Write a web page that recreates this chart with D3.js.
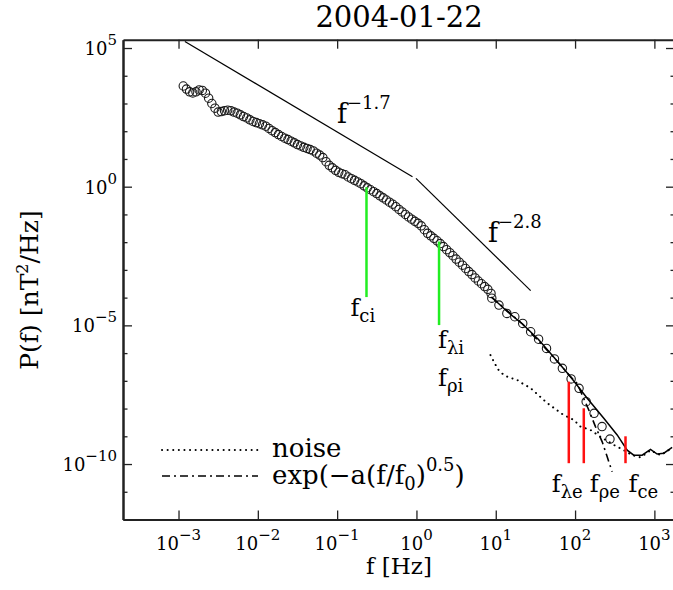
<!DOCTYPE html>
<html>
<head>
    <meta charset="utf-8">
    <style>
        body { margin: 0; background: #fff; }
        svg text { font-family: "DejaVu Serif", serif; fill: #000; }
        .axis path, .axis line { stroke: #222; }
        .axis text { display: none; }
    </style>
    <script src="https://d3js.org/d3.v7.min.js"></script>
</head>
<body>
<script>
    // all values are log10 numbers
    var denseF = [-2.94,-2.90,-2.86,-2.82,-2.78,-2.74,-2.70,-2.66,-2.62,-2.58,
                  -2.54,-2.50,-2.46,-2.42,-2.38,-2.34,-2.30,-2.26,-2.22,-2.18,
                  -2.14,-2.10,-2.06,-2.02,-1.98,-1.94,-1.90,-1.86,-1.82,-1.78,
                  -1.74,-1.70,-1.66,-1.62,-1.58,-1.54,-1.50,-1.46,-1.42,-1.38,
                  -1.34,-1.30,-1.26,-1.22,-1.18,-1.14,-1.10,-1.06,-1.02,-0.98,
                  -0.94,-0.90,-0.86,-0.82,-0.78,-0.74,-0.70,-0.66,-0.62,-0.58,
                  -0.54,-0.50,-0.46,-0.42,-0.38,-0.34,-0.30,-0.26,-0.22,-0.18,
                  -0.14,-0.10,-0.06,-0.02,0.02,0.06,0.10,0.14,0.18,0.22,
                  0.26,0.30,0.34,0.38,0.42,0.46,0.50,0.54,0.58,0.62,
                  0.66,0.70,0.74,0.78,0.82,0.86,0.90,0.94];
    var denseP = [3.63,3.52,3.42,3.38,3.42,3.49,3.47,3.37,3.19,3.00,
                  2.83,2.69,2.71,2.74,2.76,2.74,2.69,2.65,2.59,2.53,
                  2.48,2.41,2.35,2.31,2.27,2.23,2.18,2.10,2.02,1.95,
                  1.88,1.81,1.75,1.70,1.64,1.58,1.52,1.47,1.42,1.38,
                  1.34,1.29,1.21,1.14,1.05,0.90,0.77,0.68,0.59,0.52,
                  0.47,0.43,0.35,0.29,0.23,0.17,0.11,0.03,-0.04,-0.11,
                  -0.18,-0.25,-0.33,-0.40,-0.48,-0.56,-0.63,-0.72,-0.82,-0.91,
                  -1.00,-1.09,-1.17,-1.25,-1.32,-1.41,-1.55,-1.68,-1.77,-1.86,
                  -1.95,-2.05,-2.16,-2.27,-2.38,-2.49,-2.61,-2.72,-2.83,-2.95,
                  -3.06,-3.17,-3.29,-3.40,-3.50,-3.60,-3.70,-3.85];
    var sparseF = [0.95,1.04,1.14,1.24,1.34,1.44,1.54,1.64,1.74,1.84,1.95,2.05,2.14,2.24,2.34,2.44];
    var sparseP = [-4.02,-4.27,-4.57,-4.69,-4.93,-5.23,-5.50,-5.83,-6.21,-6.55,-6.93,-7.27,-7.75,-8.17,-8.65,-9.10];

    var fitF = [0.946,1.144,1.337,1.539,1.741,1.942,2.153,2.362,2.531,2.657,2.740,2.846,2.951,3.035,3.119,3.224];
    var fitP = [-3.98,-4.50,-4.95,-5.51,-6.18,-6.85,-7.63,-8.35,-8.95,-9.50,-9.68,-9.68,-9.47,-9.64,-9.61,-9.40];

    var noiseF = [0.933,0.987,1.030,1.101,1.173,1.261,1.333,1.438,1.648,1.854,1.984,2.068,2.194,2.320,2.488,2.614,2.720,2.825,2.951,3.077,3.224];
    var noiseP = [-6.07,-6.37,-6.59,-6.79,-6.89,-6.95,-7.09,-7.26,-7.80,-8.23,-8.41,-8.65,-8.77,-9.02,-9.31,-9.50,-9.68,-9.76,-9.51,-9.68,-9.42];

    var expF = [0.946,1.337,1.741,1.942,2.027,2.173,2.257,2.342,2.405,2.468];
    var expP = [-3.98,-4.95,-6.18,-6.85,-7.10,-8.05,-8.65,-9.20,-9.74,-10.28];

    // power laws: index, start/end log f, log amplitude at f = 1 Hz
    var slopeIndex = [-1.7, -2.8];
    var slopeFrom = [-2.92, -0.006];
    var slopeTo = [-0.05, 1.44];
    var slopeAmp = [0.275, 0.283];

    // characteristic frequencies
    var ionF = [-0.63, 0.285];
    var ionTop = [-0.02, -1.98];
    var ionBottom = [-3.98, -4.99];
    var elecF = [1.921, 2.110, 2.636];
    var elecTop = [-7.03, -7.99, -9.0];
    var elecBottom = -9.97;

    var xTicks = [-3, -2, -1, 0, 1, 2, 3];
    var yMajor = [-10, -5, 0, 5];
    var yMinor = [-12, -11, -9, -8, -7, -6, -4, -3, -2, -1, 1, 2, 3, 4];

    var width = 673, height = 590;
    var plotL = 123, plotR = 675, plotT = 39.7, plotB = 519.5;

    var p10 = function(v) { return Math.pow(10, v); };
    var sup = function(v) { return v < 0 ? "\u2212" + Math.abs(v) : "" + v; };

    var x = d3.scaleLog().domain([p10(-3.7), p10(3.26)]).range([plotL, plotR]);
    var y = d3.scaleLog().domain([p10(-12), p10(5.3)]).range([plotB, plotT]);

    var svg = d3.select("body").append("svg")
        .attr("width", width).attr("height", height)
        .style("display", "block");

    svg.append("clipPath").attr("id", "plot")
       .append("rect")
       .attr("x", plotL).attr("y", plotT)
       .attr("width", plotR - plotL).attr("height", plotB - plotT);

    // axes
    function axis(gen, tx, ty, vals, size) {
        var g = svg.append("g").attr("class", "axis")
            .attr("transform", "translate(" + tx + "," + ty + ")")
            .call(gen.tickValues(vals.map(p10)).tickSize(size).tickSizeOuter(0).tickFormat(""));
        g.select(".domain").attr("stroke-width", 2);
        g.selectAll(".tick line").attr("stroke-width", 1.3);
        return g;
    }
    axis(d3.axisBottom(x), 0, plotB, xTicks, -9);
    axis(d3.axisTop(x), 0, plotT, xTicks, -9);
    axis(d3.axisLeft(y), plotL, 0, yMajor, -9);
    axis(d3.axisLeft(y), plotL, 0, yMinor, -4.5);
    axis(d3.axisRight(y), plotR, 0, yMajor, -9);
    axis(d3.axisRight(y), plotR, 0, yMinor, -4.5);

    // tick labels
    xTicks.forEach(function(e) {
        var t = svg.append("text")
            .attr("x", x(p10(e))).attr("y", 550)
            .attr("text-anchor", "middle");
        t.append("tspan").attr("font-size", 18).text("10");
        t.append("tspan").attr("font-size", 15).attr("dy", -10).text(sup(e));
    });
    yMajor.forEach(function(e) {
        var t = svg.append("text")
            .attr("x", 117).attr("y", y(p10(e)) + 7)
            .attr("text-anchor", "end");
        t.append("tspan").attr("font-size", 18).text("10");
        t.append("tspan").attr("font-size", 15).attr("dy", -10).text(sup(e));
    });

    // titles
    svg.append("text")
       .attr("x", 399).attr("y", 27)
       .attr("text-anchor", "middle")
       .attr("font-size", 29)
       .text("2004-01-22");

    svg.append("text")
       .attr("x", 399).attr("y", 574)
       .attr("text-anchor", "middle")
       .attr("font-size", 23)
       .text("f  [Hz]");

    var yl = svg.append("text")
       .attr("transform", "translate(38,290) rotate(-90)")
       .attr("text-anchor", "middle")
       .attr("font-size", 25);
    yl.append("tspan").text("P(f)  [nT");
    yl.append("tspan").attr("font-size", 16).attr("dy", -10).text("2");
    yl.append("tspan").attr("dy", 10).text("/Hz]");

    var plot = svg.append("g").attr("clip-path", "url(#plot)");

    var line = d3.line()
        .x(function(d) { return x(p10(d[0])); })
        .y(function(d) { return y(p10(d[1])); });

    // power law guides
    slopeIndex.forEach(function(s, i) {
        var pts = [slopeFrom[i], slopeTo[i]].map(function(f) { return [f, slopeAmp[i] + s * f]; });
        plot.append("path").attr("d", line(pts))
            .attr("fill", "none").attr("stroke", "#000").attr("stroke-width", 1.2);
    });

    // measured spectrum
    var pts = d3.zip(denseF, denseP).concat(d3.zip(sparseF, sparseP));
    plot.selectAll("circle.pt")
        .data(pts)
        .enter().append("circle")
        .attr("class", "pt")
        .attr("cx", function(d) { return x(p10(d[0])); })
        .attr("cy", function(d) { return y(p10(d[1])); })
        .attr("r", 4.2)
        .attr("fill", "none")
        .attr("stroke", "#1a1a1a")
        .attr("stroke-width", 1.1);

    // fits
    plot.append("path").attr("d", line(d3.zip(fitF, fitP)))
        .attr("fill", "none").attr("stroke", "#000").attr("stroke-width", 1.5);
    plot.append("path").attr("d", line(d3.zip(noiseF, noiseP)))
        .attr("fill", "none").attr("stroke", "#000").attr("stroke-width", 2)
        .attr("stroke-linecap", "round").attr("stroke-dasharray", "0.1,5.5");
    plot.append("path").attr("d", line(d3.zip(expF, expP)))
        .attr("fill", "none").attr("stroke", "#000").attr("stroke-width", 1.6)
        .attr("stroke-dasharray", "8,4,2,4");

    // characteristic frequencies
    ionF.forEach(function(f, i) {
        plot.append("line")
            .attr("x1", x(p10(f))).attr("x2", x(p10(f)))
            .attr("y1", y(p10(ionTop[i]))).attr("y2", y(p10(ionBottom[i])))
            .attr("stroke", "#22ee22").attr("stroke-width", 2.5);
    });
    elecF.forEach(function(f, i) {
        plot.append("line")
            .attr("x1", x(p10(f))).attr("x2", x(p10(f)))
            .attr("y1", y(p10(elecTop[i]))).attr("y2", y(p10(elecBottom)))
            .attr("stroke", "#ff1111").attr("stroke-width", 2.5);
    });

    function fLabel(px, py, sub) {
        var t = svg.append("text").attr("x", px).attr("y", py).attr("font-size", 24);
        t.append("tspan").text("f");
        t.append("tspan").attr("font-size", 18).attr("dy", 6).text(sub);
    }
    fLabel(x(p10(ionF[0])) - 16, 316, "ci");
    fLabel(x(p10(ionF[1])) - 1, 348, "\u03bbi");
    fLabel(x(p10(ionF[1])) - 1, 386, "\u03c1i");
    fLabel(x(p10(elecF[0])) - 17, 492, "\u03bbe");
    fLabel(x(p10(elecF[1])) + 6, 492, "\u03c1e");
    fLabel(x(p10(elecF[2])) + 3, 492, "ce");

    // power law labels
    function powLabel(px, py, s) {
        var t = svg.append("text").attr("x", px).attr("y", py).attr("font-size", 27);
        t.append("tspan").text("f");
        t.append("tspan").attr("font-size", 18).attr("dy", -14).text(sup(s));
    }
    powLabel(337, 123, slopeIndex[0]);
    powLabel(488, 242, slopeIndex[1]);

    // legend
    svg.append("line").attr("x1", 162).attr("x2", 258).attr("y1", 450).attr("y2", 450)
       .attr("stroke", "#000").attr("stroke-width", 2)
       .attr("stroke-linecap", "round").attr("stroke-dasharray", "0.1,5.5");
    svg.append("line").attr("x1", 162).attr("x2", 258).attr("y1", 476).attr("y2", 476)
       .attr("stroke", "#000").attr("stroke-width", 1.6)
       .attr("stroke-dasharray", "8,4,2,4");
    svg.append("text").attr("x", 272).attr("y", 457).attr("font-size", 26).text("noise");
    var ex = svg.append("text").attr("x", 272).attr("y", 484).attr("font-size", 26);
    ex.append("tspan").text("exp(\u2212a(f/f");
    ex.append("tspan").attr("font-size", 18).attr("dy", 6).text("0");
    ex.append("tspan").attr("dy", -6).text(")");
    ex.append("tspan").attr("font-size", 18).attr("dy", -13).text("0.5");
    ex.append("tspan").attr("dy", 13).text(")");
</script>
</body>
</html>
